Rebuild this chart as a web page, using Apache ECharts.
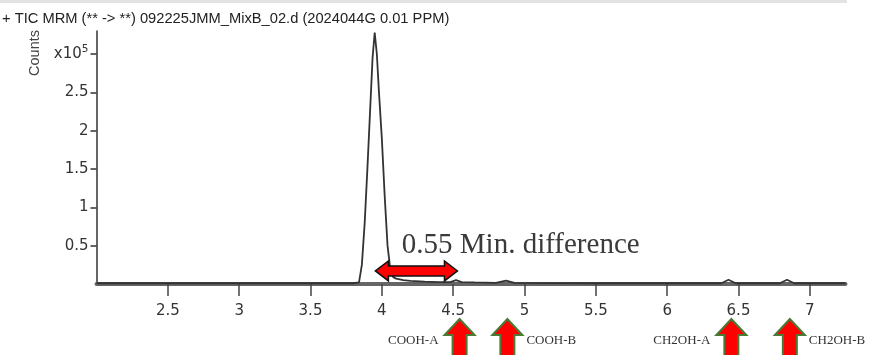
<!DOCTYPE html>
<html>
<head>
<meta charset="utf-8">
<script src="https://cdn.jsdelivr.net/npm/echarts@6/dist/echarts.min.js"></script>
<style>
  html, body { margin: 0; padding: 0; background: #fff; }
  #chart { width: 875px; height: 355px; }
</style>
</head>
<body>
<div id="chart"></div>
<script>
// retention time (min) and counts (x10^5)
const retention = [2.0, 3.0, 3.8, 3.84, 3.86, 3.88, 3.9, 3.92, 3.935, 3.95, 3.965, 3.98, 4.0, 4.02, 4.04, 4.06, 4.08, 4.1, 4.15, 4.2, 4.3, 4.4, 4.48, 4.52, 4.56, 4.65, 4.8, 4.87, 4.93, 5.5, 6.0, 6.38, 6.43, 6.48, 6.79, 6.84, 6.89, 7.25];
const counts    = [0.01, 0.01, 0.01, 0.02, 0.25, 0.8, 1.55, 2.35, 2.95, 3.28, 3.0, 2.5, 1.9, 1.15, 0.5, 0.18, 0.09, 0.07, 0.05, 0.04, 0.03, 0.025, 0.025, 0.05, 0.025, 0.02, 0.015, 0.045, 0.015, 0.01, 0.01, 0.01, 0.055, 0.01, 0.01, 0.055, 0.01, 0.01];

const xTicks = [2.5, 3, 3.5, 4, 4.5, 5, 5.5, 6, 6.5, 7];
const yTicks = [0.5, 1, 1.5, 2, 2.5, 3];

// annotations
const markerX     = [4.545, 4.88, 6.45, 6.86];
const markerNames = ['COOH-A', 'COOH-B', 'CH2OH-A', 'CH2OH-B'];
const markerSide  = ['left', 'right', 'left', 'right'];
const spanX = [3.955, 4.53];
const spanY = 0.17;
const spanText = '0.55 Min. difference';
const spanTextAt = [4.14, 0.51];

const titleText = '+ TIC MRM (** -> **) 092225JMM_MixB_02.d (2024044G 0.01 PPM)';

const chart = echarts.init(document.getElementById('chart'));

chart.setOption({
  animation: false,
  title: {
    text: titleText,
    left: 2,
    top: 11,
    padding: 0,
    textStyle: { fontFamily: 'Liberation Sans', fontSize: 14.7, fontWeight: 'normal', color: '#222' }
  },
  grid: { left: 96.5, right: 29.5, top: 31, bottom: 71, outerBoundsMode: 'none' },
  xAxis: {
    type: 'value',
    min: 2,
    max: 7.25,
    interval: 0.5,
    splitLine: { show: false },
    axisLine: { lineStyle: { color: '#666', width: 4 } },
    axisTick: { customValues: xTicks, length: 12, lineStyle: { color: '#444', width: 1.5 } },
    axisLabel: {
      customValues: xTicks,
      margin: 20,
      fontFamily: 'DejaVu Sans',
      fontSize: 15,
      color: '#333'
    }
  },
  yAxis: {
    type: 'value',
    min: 0,
    max: 3.3,
    interval: 0.5,
    splitLine: { show: false },
    axisLine: { show: true, lineStyle: { color: '#333', width: 1.5 } },
    axisTick: { customValues: yTicks, length: 6, lineStyle: { color: '#333', width: 1.5 } },
    axisLabel: {
      customValues: yTicks,
      margin: 8,
      fontFamily: 'DejaVu Sans',
      fontSize: 15,
      color: '#333',
      formatter: v => (v === 3 ? 'x10{sup|5}' : String(v)),
      rich: { sup: { fontFamily: 'DejaVu Sans', fontSize: 10.5, color: '#333', padding: [0, 0, 9, 0] } }
    }
  },
  series: [{
    type: 'line',
    data: retention.map((t, i) => [t, counts[i]]),
    showSymbol: false,
    lineStyle: { color: '#333', width: 1.8 },
    z: 5
  }]
});

function drawNotes() {
  const px = p => chart.convertToPixel({ gridIndex: 0 }, p);
  const els = [];

  els.push({
    type: 'rect',
    shape: { x: 0, y: 0, width: 847, height: 3 },
    style: { fill: '#e3e3e3' }
  });

  els.push({
    type: 'text',
    x: 35, y: 53,
    rotation: Math.PI / 2,
    style: { text: 'Counts', fontFamily: 'Liberation Sans', fontSize: 14.5, fill: '#444', align: 'center', verticalAlign: 'middle' }
  });

  // double arrow between the two peaks
  const a = px([spanX[0], spanY]);
  const b = px([spanX[1], spanY]);
  const hl = 13, hh = 10, sh = 5, y = a[1];
  els.push({
    type: 'polygon',
    shape: { points: [
      [a[0], y], [a[0] + hl, y - hh], [a[0] + hl, y - sh], [b[0] - hl, y - sh], [b[0] - hl, y - hh],
      [b[0], y], [b[0] - hl, y + hh], [b[0] - hl, y + sh], [a[0] + hl, y + sh], [a[0] + hl, y + hh]
    ] },
    style: { fill: '#ff0000', stroke: '#111', lineWidth: 1.5 },
    z: 10
  });
  const tp = px(spanTextAt);
  els.push({
    type: 'text',
    x: tp[0], y: tp[1],
    style: { text: spanText, fontFamily: 'Liberation Serif', fontSize: 29, fill: '#3a3a3a', align: 'left', verticalAlign: 'middle' },
    z: 10
  });

  // up arrows under the axis
  markerX.forEach((mx, i) => {
    const base = px([mx, 0]);
    const cx = base[0], ty = base[1] + 35;
    els.push({
      type: 'polygon',
      shape: { points: [
        [cx, ty], [cx + 15, ty + 16], [cx + 7, ty + 16], [cx + 7, 362],
        [cx - 7, 362], [cx - 7, ty + 16], [cx - 15, ty + 16]
      ] },
      style: { fill: '#ff0000', stroke: '#4a7a35', lineWidth: 2 },
      z: 10
    });
    const left = markerSide[i] === 'left';
    els.push({
      type: 'text',
      x: left ? cx - 21 : cx + 19,
      y: ty + 22,
      style: { text: markerNames[i], fontFamily: 'Liberation Serif', fontSize: 13, fill: '#333', align: left ? 'right' : 'left', verticalAlign: 'middle' },
      z: 10
    });
  });

  chart.setOption({ graphic: { elements: els } });
}

drawNotes();
</script>
</body>
</html>
